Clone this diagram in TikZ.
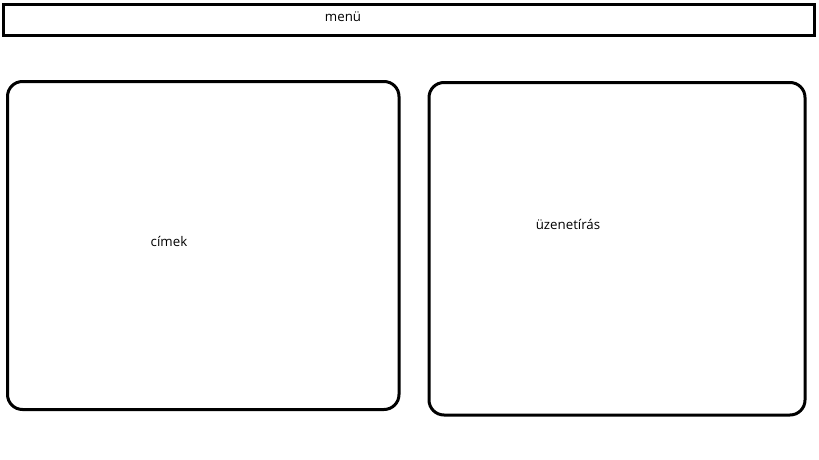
\documentclass[tikz,border=0pt]{standalone}
\usepackage{fontspec}
\setmainfont{Open Sans}
\begin{document}
\begin{tikzpicture}[x=1pt,y=-1pt,
  frame/.style={draw=black,line width=3pt},
  roundbox/.style={frame,rounded corners=15pt},
  lbl/.style={font=\fontsize{13.3}{15}\selectfont,text=black,inner sep=0pt}]
\useasboundingbox (0,0) rectangle (819,460);
\draw[frame] (3.5,5) rectangle (814.5,35.5);
\node[lbl] (menu) at (343,17) {menü};
\draw[roundbox] (7.5,81.5) rectangle (399,409.5);
\node[lbl] (cimek) at (169,241) {címek};
\draw[roundbox] (429,82.5) rectangle (805,415);
\node[lbl] (uzenet) at (568,224) {üzenetírás};
\end{tikzpicture}
\end{document}
